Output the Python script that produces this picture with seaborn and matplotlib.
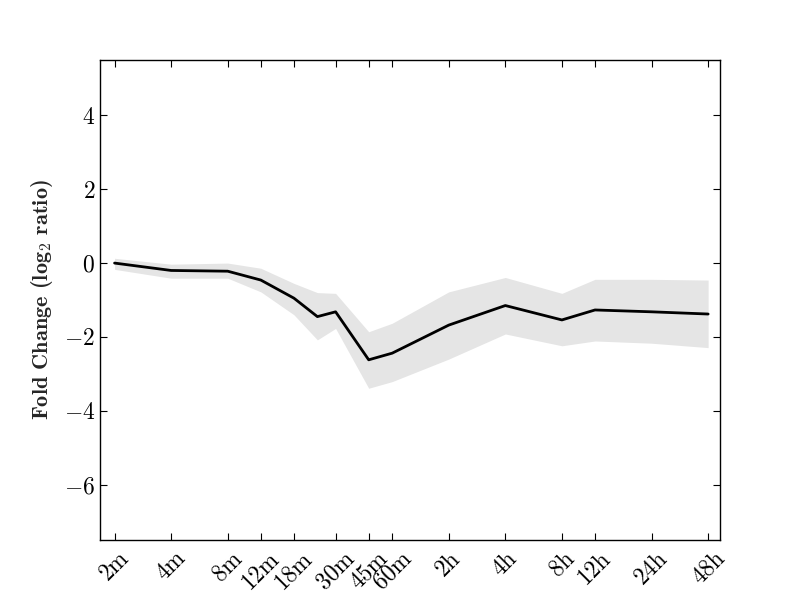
"""Fold change time course with shaded spread (log2 ratio vs time)."""
import matplotlib

matplotlib.use("Agg")
import matplotlib.pyplot as plt
import matplotlib.ticker as mticker
import pandas as pd
import seaborn as sns

# time points in minutes
times = [2, 4, 8, 12, 18, 24, 30, 45, 60, 120, 240, 480, 720, 1440, 2880]
mean_fc = [0.0, -0.2, -0.22, -0.46, -0.95, -1.45, -1.32, -2.62, -2.44,
           -1.68, -1.15, -1.54, -1.27, -1.32, -1.38]
upper_fc = [0.13, -0.03, 0.0, -0.14, -0.55, -0.8, -0.82, -1.86, -1.63,
            -0.78, -0.39, -0.82, -0.44, -0.44, -0.46]
lower_fc = [-0.17, -0.41, -0.41, -0.78, -1.4, -2.08, -1.77, -3.39, -3.21,
            -2.6, -1.92, -2.24, -2.11, -2.17, -2.29]

tick_times = [2, 4, 8, 12, 18, 30, 45, 60, 120, 240, 480, 720, 1440, 2880]
tick_labels = ["2m", "4m", "8m", "12m", "18m", "30m", "45m", "60m",
               "2h", "4h", "8h", "12h", "24h", "48h"]
y_ticks = [-6, -4, -2, 0, 2, 4]

sns.set_style("ticks")
plt.rcParams.update({
    "font.family": ["cmr10", "DejaVu Sans"],
    "mathtext.fontset": "cm",
    "axes.formatter.use_mathtext": True,
    "axes.unicode_minus": True,
    "axes.edgecolor": "black",
    "axes.linewidth": 1.0,
    "xtick.direction": "in",
    "ytick.direction": "in",
    "xtick.top": True,
    "ytick.right": True,
    "xtick.major.size": 5,
    "ytick.major.size": 5,
    "xtick.color": "black",
    "ytick.color": "black",
})

df = pd.DataFrame({"time": times, "fc": mean_fc, "lo": lower_fc, "hi": upper_fc})

fig, ax = plt.subplots(figsize=(8, 6), dpi=100)
fig.subplots_adjust(left=0.125, right=0.9, bottom=0.1, top=0.9)

ax.fill_between(df["time"], df["lo"], df["hi"], color="#e5e5e5", lw=0, zorder=1)
sns.lineplot(data=df, x="time", y="fc", color="black", lw=2, ax=ax, zorder=2)

ax.set_xscale("log", base=2)
ax.set_xlim(1.673, 3330)
ax.set_ylim(-7.5, 5.5)
ax.xaxis.set_minor_locator(mticker.NullLocator())
ax.set_xticks(tick_times)
ax.set_xticklabels(tick_labels, rotation=45, fontsize=17)
ax.set_yticks(y_ticks)
ax.tick_params(axis="y", labelsize=17)
ax.tick_params(axis="x", pad=5)
ax.set_xlabel("")
ax.set_ylabel(r"Fold Change (log$_2$ ratio)", family="cmb10", fontsize=16,
              labelpad=6)

for s in ax.spines.values():
    s.set_visible(True)

fig.savefig("out.png", dpi=100)
